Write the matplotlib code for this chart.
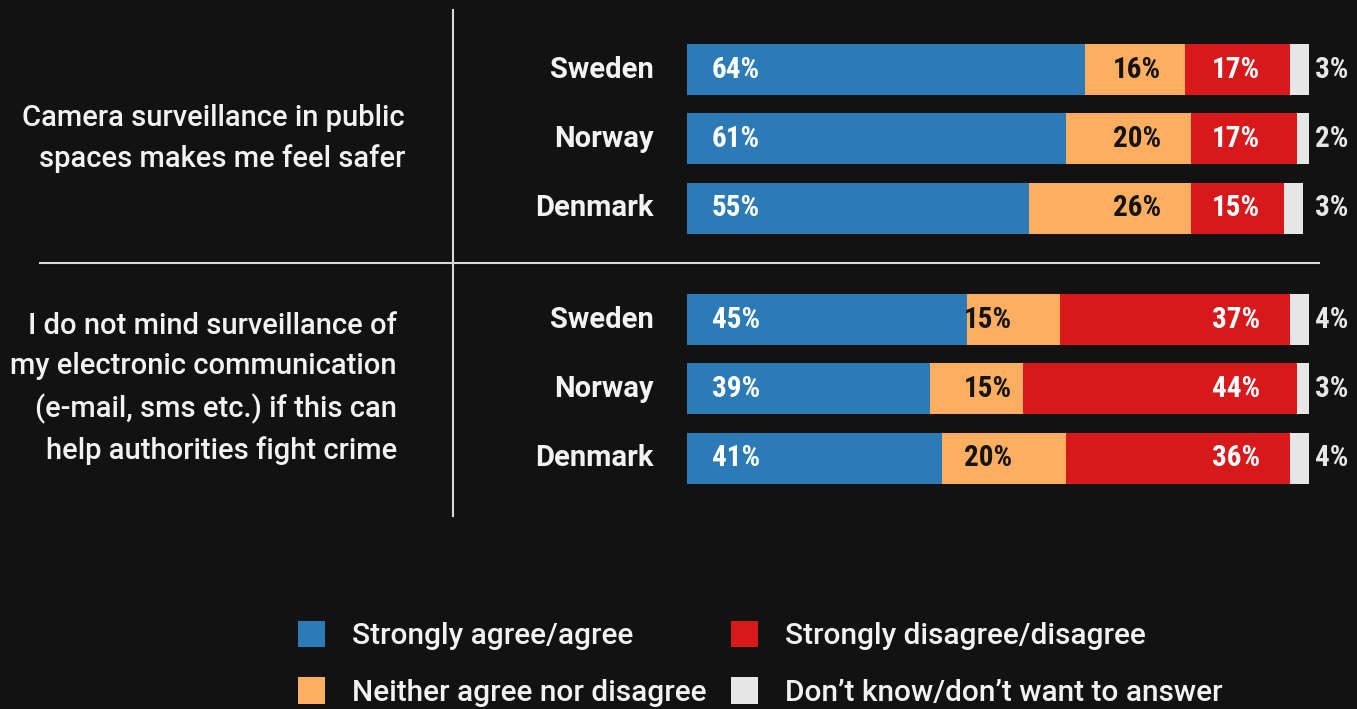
import matplotlib
matplotlib.use("Agg")
import matplotlib.pyplot as plt
from matplotlib.lines import Line2D

# ---- data -------------------------------------------------------------
questions = [
    "Camera surveillance in public\nspaces makes me feel safer",
    "I do not mind surveillance of\nmy electronic communication\n(e-mail, sms etc.) if this can\nhelp authorities fight crime",
]
countries = ["Sweden", "Norway", "Denmark"]
categories = [
    "Strongly agree/agree",
    "Neither agree nor disagree",
    "Strongly disagree/disagree",
    "Don\u2019t know/don\u2019t want to answer",
]
agree = [[64, 61, 55], [45, 39, 41]]
neither = [[16, 20, 26], [15, 15, 20]]
disagree = [[17, 17, 15], [37, 44, 36]]
dont_know = [[3, 2, 3], [4, 3, 4]]

# ---- style --------------------------------------------------------------
BG = "#121212"
FG = "#f2f2f2"
colors = ["#2c7bb6", "#fdae61", "#d7191c", "#e6e6e6"]
label_colors = ["white", "#141414", "white", "#e6e6e6"]
COND = ["Roboto Condensed", "Noto Sans Condensed", "Open Sans Condensed",
        "DejaVu Sans Condensed", "Liberation Sans Narrow", "Noto Sans",
        "Roboto"]
MAIN = ["Roboto", "DejaVu Sans"]

W, H, DPI = 1357, 709, 100
fig = plt.figure(figsize=(W / DPI, H / DPI), dpi=DPI, facecolor=BG)

# bar area: x in percent, y in pixel rows (top = 0)
ax = fig.add_axes([687 / W, 0, 622 / W, 1])
ax.set_facecolor("none")
ax.set_xlim(0, 100)
ax.set_ylim(H, 0)
ax.axis("off")

row_step, group_step, first_row = 69.3, 250.0, 69.5
bar_h = 51

# fixed label columns (percent units) per group
lab_x = {
    0: [11.7, 76.2, 92.1, 101.0],
    1: [11.7, 52.2, 92.1, 101.0],
}
lab_ha = ["right", "right", "right", "left"]

series = [agree, neither, disagree, dont_know]
handles = []
for g in range(len(questions)):
    ys = [first_row + g * group_step + i * row_step for i in range(len(countries))]
    left = [0.0] * len(countries)
    for s, vals in enumerate(series):
        v = vals[g]
        bars = ax.barh(ys, v, left=left, height=bar_h, color=colors[s],
                       linewidth=0, label=categories[s] if g == 0 else None)
        if g == 0:
            handles.append(bars)
        for i, y in enumerate(ys):
            ax.text(lab_x[g][s], y, f"{v[i]}%", ha=lab_ha[s], va="center",
                    color=label_colors[s], fontsize=21, fontweight="bold",
                    fontstretch="condensed", family=COND)
        left = [l + x for l, x in zip(left, v)]
    for i, y in enumerate(ys):
        ax.text(-5.4, y, countries[i], ha="right", va="center", color=FG,
                fontsize=21, fontweight="bold", family=MAIN)
    qx = 405 if g == 0 else 397
    fig.text(qx / W, 1 - ys[1] / H, questions[g], ha="right", va="center",
             multialignment="right", color=FG, fontsize=21,
             fontweight="medium", family=MAIN, linespacing=1.55)

# divider lines
fig.add_artist(Line2D([452.5 / W, 452.5 / W], [1 - 10 / H, 1 - 516 / H],
                      color="#d9d9d9", linewidth=1.5))
fig.add_artist(Line2D([40 / W, 1319 / W], [1 - 263 / H, 1 - 263 / H],
                      color="#d9d9d9", linewidth=1.5))

# legend
leg = fig.legend(handles=handles, labels=categories, ncol=2,
                 loc="upper left", bbox_to_anchor=(298 / W, 1 - 621 / H),
                 frameon=False, borderaxespad=0, borderpad=0,
                 handlelength=0.92, handleheight=0.98, handletextpad=0.9,
                 columnspacing=0.8, labelspacing=0.9,
                 prop={"family": MAIN, "size": 21.5, "weight": "medium"})
for t in leg.get_texts():
    t.set_color(FG)

fig.savefig("out.png", dpi=DPI, facecolor=BG)
